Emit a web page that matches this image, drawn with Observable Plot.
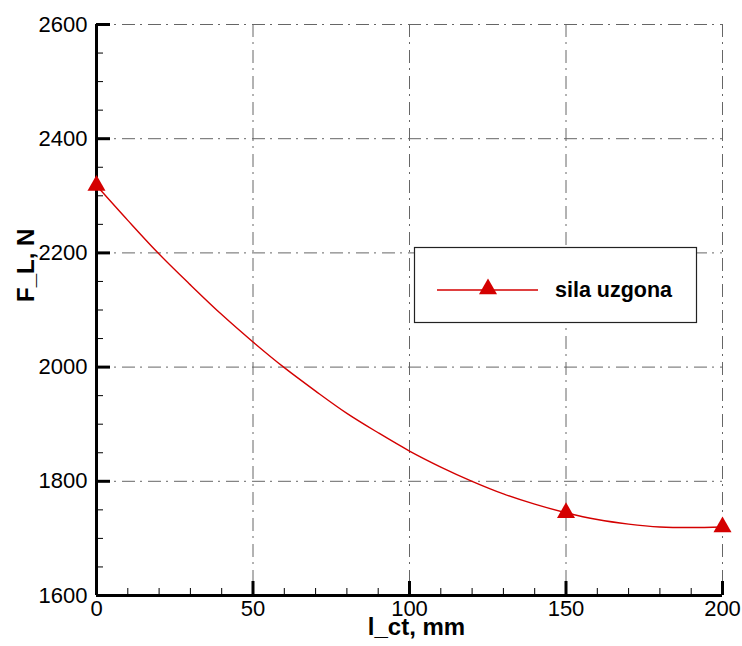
<!DOCTYPE html>
<html>
<head>
<meta charset="utf-8">
<script src="https://cdn.jsdelivr.net/npm/d3@7"></script>
<script src="https://cdn.jsdelivr.net/npm/@observablehq/plot@0.6"></script>
<style>
  html, body { margin: 0; padding: 0; background: #fff; }
</style>
</head>
<body>
<div id="chart"></div>
<script>
// ---- data ----
const xMajor = [0, 50, 100, 150, 200];
const xMinor = [10, 20, 30, 40, 60, 70, 80, 90, 110, 120, 130, 140, 160, 170, 180, 190];
const yMajor = [1600, 1800, 2000, 2200, 2400, 2600];
const yMinor = [1650, 1700, 1750, 1850, 1900, 1950, 2050, 2100, 2150, 2250, 2300, 2350, 2450, 2500, 2550];

// smooth curve (l_ct in mm, F_L in N)
const curveX = [0, 10, 20, 30, 40, 50, 60, 70, 80, 90, 100, 110, 120, 130, 140, 150, 160, 170, 180, 190, 200];
const curveF = [2318, 2257, 2198, 2144, 2092, 2044, 1999, 1958, 1919, 1885, 1853, 1825, 1800, 1778, 1760, 1745, 1733, 1725, 1720, 1719, 1720];

// marker points
const pointX = [0, 150, 200];
const pointF = [2318, 1745, 1720];

const seriesName = "sila uzgona";
const xTitle = "l_ct, mm";
const yTitle = "F_L, N";

// ---- layout / style ----
const W = 742, H = 646;
const mL = 96, mR = 20, mT = 24, mB = 51;
const plotW = W - mL - mR, plotH = H - mT - mB;
const red = "#d40000";
const gridColor = "#666";
const dash = "13,5,2,6";
const font = "'Liberation Sans', Arial, Helvetica, sans-serif";

const curve = curveX.map((x, i) => ({x, f: curveF[i]}));
const points = pointX.map((x, i) => ({x, f: pointF[i]}));

const chart = Plot.plot({
  width: W,
  height: H,
  marginLeft: mL,
  marginRight: mR,
  marginTop: mT,
  marginBottom: mB,
  style: {fontFamily: font, background: "#fff", color: "#000"},
  x: {domain: [0, 200]},
  y: {domain: [1600, 2600]},
  marks: [
    // grid
    Plot.ruleX(xMajor.filter(d => d > 0), {x: d => d, stroke: gridColor, strokeWidth: 1, strokeDasharray: dash}),
    Plot.ruleY(yMajor.filter(d => d > 1600), {y: d => d, stroke: gridColor, strokeWidth: 1, strokeDasharray: dash}),
    // inward ticks
    Plot.tickY(yMinor, {y: d => d, insetRight: plotW - 7, stroke: "#000", strokeWidth: 1}),
    Plot.tickY(yMajor, {y: d => d, insetRight: plotW - 14, stroke: "#000", strokeWidth: 3}),
    Plot.tickX(xMinor, {x: d => d, insetTop: plotH - 7, stroke: "#000", strokeWidth: 1}),
    Plot.tickX(xMajor, {x: d => d, insetTop: plotH - 14, stroke: "#000", strokeWidth: 3}),
    // axis lines
    Plot.ruleX([0], {stroke: "#000", strokeWidth: 3}),
    Plot.ruleY([1600], {stroke: "#000", strokeWidth: 3}),
    // tick labels
    Plot.axisX({ticks: xMajor, tickFormat: d => String(d), tickSize: 0, tickPadding: 5, fontSize: 22, label: null}),
    Plot.axisY({ticks: yMajor, tickFormat: d => String(d), tickSize: 0, tickPadding: 9, fontSize: 22, label: null}),
    // axis titles
    Plot.text([xTitle], {frameAnchor: "bottom", dx: 7, dy: 39, fontSize: 24, fontWeight: "bold"}),
    Plot.text([yTitle], {frameAnchor: "left", dx: -70, dy: -8, rotate: -90, fontSize: 24, fontWeight: "bold"}),
    // data
    Plot.line(curve, {x: "x", y: "f", stroke: red, strokeWidth: 1.4, curve: "catmull-rom"}),
    Plot.dot(points, {x: "x", y: "f", symbol: "triangle", r: 6.7, fill: red, stroke: "none"})
  ]
});

document.getElementById("chart").appendChild(chart);

// legend box inside the plot area
const svg = d3.select(chart);
const lg = svg.append("g").attr("class", "legend");
lg.append("rect")
  .attr("x", 414.5).attr("y", 247.5).attr("width", 282).attr("height", 75)
  .attr("fill", "#fff").attr("stroke", "#222").attr("stroke-width", 1.2);
lg.append("line")
  .attr("x1", 437).attr("x2", 538).attr("y1", 290).attr("y2", 290)
  .attr("stroke", red).attr("stroke-width", 1.6);
lg.append("path")
  .attr("d", d3.symbol(d3.symbolTriangle, Math.PI * 6.7 * 6.7)())
  .attr("transform", "translate(488,289)")
  .attr("fill", red);
lg.append("text")
  .attr("x", 555).attr("y", 297)
  .attr("text-anchor", "start")
  .style("font-size", "21.5px").style("font-weight", "bold")
  .style("font-family", font)
  .attr("fill", "#000")
  .text(seriesName);
</script>
</body>
</html>
